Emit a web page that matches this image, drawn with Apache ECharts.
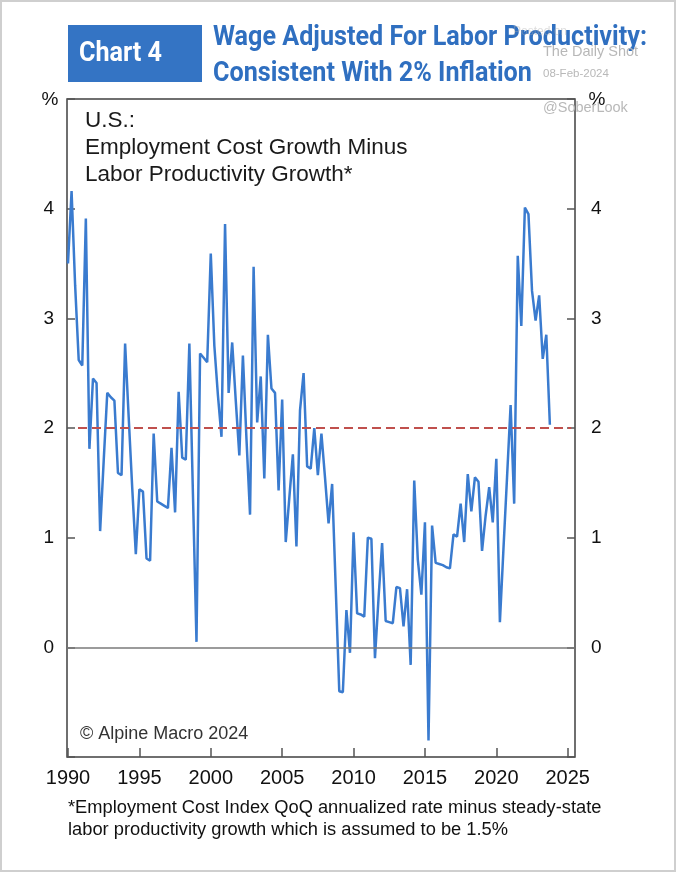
<!DOCTYPE html>
<html>
<head>
<meta charset="utf-8">
<script src="https://cdn.jsdelivr.net/npm/echarts@6/dist/echarts.min.js"></script>
<style>
html,body{margin:0;padding:0;background:#fff;}
#chart{width:676px;height:872px;}
</style>
</head>
<body>
<div id="chart"></div>
<script>
// Quarterly series start (1990 Q1) and values
const startYear = 1990;
const values = [
  3.50, 4.16, 3.30, 2.62, 2.57, 3.91, 1.81, 2.45, 2.41, 1.06,
  1.70, 2.32, 2.28, 2.25, 1.59, 1.57, 2.77, 2.10, 1.45, 0.85,
  1.44, 1.42, 0.81, 0.79, 1.95, 1.33, 1.31, 1.29, 1.27, 1.82,
  1.23, 2.33, 1.73, 1.71, 2.77, 1.40, 0.05, 2.68, 2.64, 2.60,
  3.59, 2.75, 2.30, 1.92, 3.86, 2.32, 2.78, 2.25, 1.75, 2.66,
  1.90, 1.21, 3.47, 2.05, 2.47, 1.54, 2.85, 2.36, 2.32, 1.43,
  2.26, 0.96, 1.36, 1.76, 0.92, 2.16, 2.50, 1.65, 1.63, 2.00,
  1.57, 1.95, 1.55, 1.13, 1.49, 0.55, -0.40, -0.41, 0.34, -0.05,
  1.05, 0.31, 0.30, 0.28, 1.00, 0.99, -0.10, 0.45, 0.95, 0.24,
  0.23, 0.22, 0.55, 0.54, 0.19, 0.53, -0.16, 1.52, 0.80, 0.48,
  1.14, -0.85, 1.11, 0.77, 0.76, 0.75, 0.73, 0.72, 1.03, 1.01,
  1.31, 0.96, 1.58, 1.24, 1.55, 1.51, 0.88, 1.20, 1.46, 1.14,
  1.72, 0.23, 0.90, 1.55, 2.21, 1.31, 3.57, 2.93, 4.01, 3.95,
  3.25, 2.98, 3.21, 2.63, 2.85, 2.03
];
const xTickYears = [1990, 1995, 2000, 2005, 2010, 2015, 2020, 2025];
const yTickValues = [0, 1, 2, 3, 4];
const inflationLine = 2;
const zeroLine = 0;

const quarters = values.map((v, i) => startYear + i / 4);
const seriesData = values.map((v, i) => [quarters[i], v]);

const FONT = '"Liberation Sans", Arial, sans-serif';
const TITLE_FONT = 'bold 27px Roboto, "Liberation Sans", sans-serif';
const titleLine1 = 'Wage Adjusted For Labor Productivity:';
const titleLine2 = 'Consistent With 2% Inflation';

// horizontal condensing factor so that the title's first line spans its width in the reference
const mctx = document.createElement('canvas').getContext('2d');
mctx.font = TITLE_FONT;
const titleScale = 434 / mctx.measureText(titleLine1).width;

const chart = echarts.init(document.getElementById('chart'), null, {renderer: 'canvas'});

const yAxisBase = (pos, margin) => ({
  type: 'value', position: pos, min: -1, max: 5, interval: 1,
  axisLine: {show: false},
  splitLine: {show: false},
  axisTick: {show: true, inside: true, length: 8, lineStyle: {color: '#555', width: 1.5}},
  axisLabel: {
    show: true, margin: margin, color: '#111', fontSize: 19, fontFamily: FONT,
    formatter: v => (yTickValues.indexOf(v) >= 0 ? String(v) : '')
  }
});

chart.setOption({
  animation: false,
  backgroundColor: '#fff',
  grid: {left: 67, right: 101, top: 99, bottom: 115, show: true, borderColor: '#404040', borderWidth: 1.5, containLabel: false},
  xAxis: {
    type: 'value', min: 1989.93, max: 2025.51,
    axisLine: {show: false, onZero: false},
    splitLine: {show: false},
    axisTick: {show: true, inside: true, length: 9, customValues: xTickYears, lineStyle: {color: '#555', width: 1.5}},
    axisLabel: {show: true, margin: 11, color: '#111', fontSize: 20, fontFamily: FONT, customValues: xTickYears, formatter: v => String(v)}
  },
  yAxis: [yAxisBase('left', 13), yAxisBase('right', 16)],
  series: [{
    type: 'line',
    data: seriesData,
    showSymbol: false,
    lineStyle: {color: '#3a7bcf', width: 2.5},
    z: 3,
    markLine: {
      silent: true, symbol: 'none', label: {show: false}, animation: false,
      data: [
        {yAxis: zeroLine, lineStyle: {color: '#7a7a7a', width: 1.5, type: 'solid'}},
        [{coord: [1990.7, inflationLine]}, {coord: [2025.25, inflationLine], lineStyle: {color: '#c0504d', width: 2, type: [9, 5]}}]
      ]
    }
  }],
  graphic: [
    {type: 'rect', shape: {x: 1, y: 1, width: 674, height: 870}, style: {fill: 'none', stroke: '#cfcfcf', lineWidth: 2}, z: 100},
    {type: 'rect', shape: {x: 68, y: 25, width: 134, height: 57}, style: {fill: '#3474c4'}, z: 1},
    {type: 'text', x: 79, y: 54, scaleX: titleScale, z: 5, style: {text: 'Chart 4', fill: '#fff', font: TITLE_FONT, verticalAlign: 'middle', textVerticalAlign: 'middle'}},
    {type: 'text', x: 213, y: 38, scaleX: titleScale, z: 5, style: {text: titleLine1, fill: '#2f6fc0', font: TITLE_FONT, verticalAlign: 'middle', textVerticalAlign: 'middle'}},
    {type: 'text', x: 213, y: 74, scaleX: titleScale, z: 5, style: {text: titleLine2, fill: '#2f6fc0', font: TITLE_FONT, verticalAlign: 'middle', textVerticalAlign: 'middle'}},
    {type: 'text', x: 513, y: 32, style: {text: 'Posted on', fill: 'rgba(170,170,170,0.4)', font: '12px ' + FONT, verticalAlign: 'middle', textVerticalAlign: 'middle'}, z: 10},
    {type: 'text', x: 543, y: 52, style: {text: 'The Daily Shot', fill: '#b8b8b8', font: '14.5px ' + FONT, verticalAlign: 'middle', textVerticalAlign: 'middle'}, z: 10},
    {type: 'text', x: 543, y: 74, style: {text: '08-Feb-2024', fill: '#b8b8b8', font: '11.5px ' + FONT, verticalAlign: 'middle', textVerticalAlign: 'middle'}, z: 10},
    {type: 'text', x: 543, y: 108, style: {text: '@SoberLook', fill: '#b8b8b8', font: '14.5px ' + FONT, verticalAlign: 'middle', textVerticalAlign: 'middle'}, z: 10},
    {type: 'text', x: 50, y: 100, style: {text: '%', fill: '#111', font: '19px ' + FONT, align: 'center', textAlign: 'center', verticalAlign: 'middle', textVerticalAlign: 'middle'}},
    {type: 'text', x: 597, y: 100, style: {text: '%', fill: '#111', font: '19px ' + FONT, align: 'center', textAlign: 'center', verticalAlign: 'middle', textVerticalAlign: 'middle'}},
    {type: 'text', x: 85, y: 121, style: {text: 'U.S.:', fill: '#1a1a1a', font: '22.5px ' + FONT, verticalAlign: 'middle', textVerticalAlign: 'middle'}},
    {type: 'text', x: 85, y: 148, style: {text: 'Employment Cost Growth Minus', fill: '#1a1a1a', font: '22.5px ' + FONT, verticalAlign: 'middle', textVerticalAlign: 'middle'}},
    {type: 'text', x: 85, y: 175, style: {text: 'Labor Productivity Growth*', fill: '#1a1a1a', font: '22.5px ' + FONT, verticalAlign: 'middle', textVerticalAlign: 'middle'}},
    {type: 'text', x: 80, y: 734, style: {text: '\u00A9 Alpine Macro 2024', fill: '#333', font: '18px ' + FONT, verticalAlign: 'middle', textVerticalAlign: 'middle'}},
    {type: 'text', x: 68, y: 808, style: {text: '*Employment Cost Index QoQ annualized rate minus steady-state', fill: '#111', font: '18.3px ' + FONT, verticalAlign: 'middle', textVerticalAlign: 'middle'}},
    {type: 'text', x: 68, y: 830, style: {text: 'labor productivity growth which is assumed to be 1.5%', fill: '#111', font: '18.3px ' + FONT, verticalAlign: 'middle', textVerticalAlign: 'middle'}}
  ]
});
</script>
</body>
</html>
